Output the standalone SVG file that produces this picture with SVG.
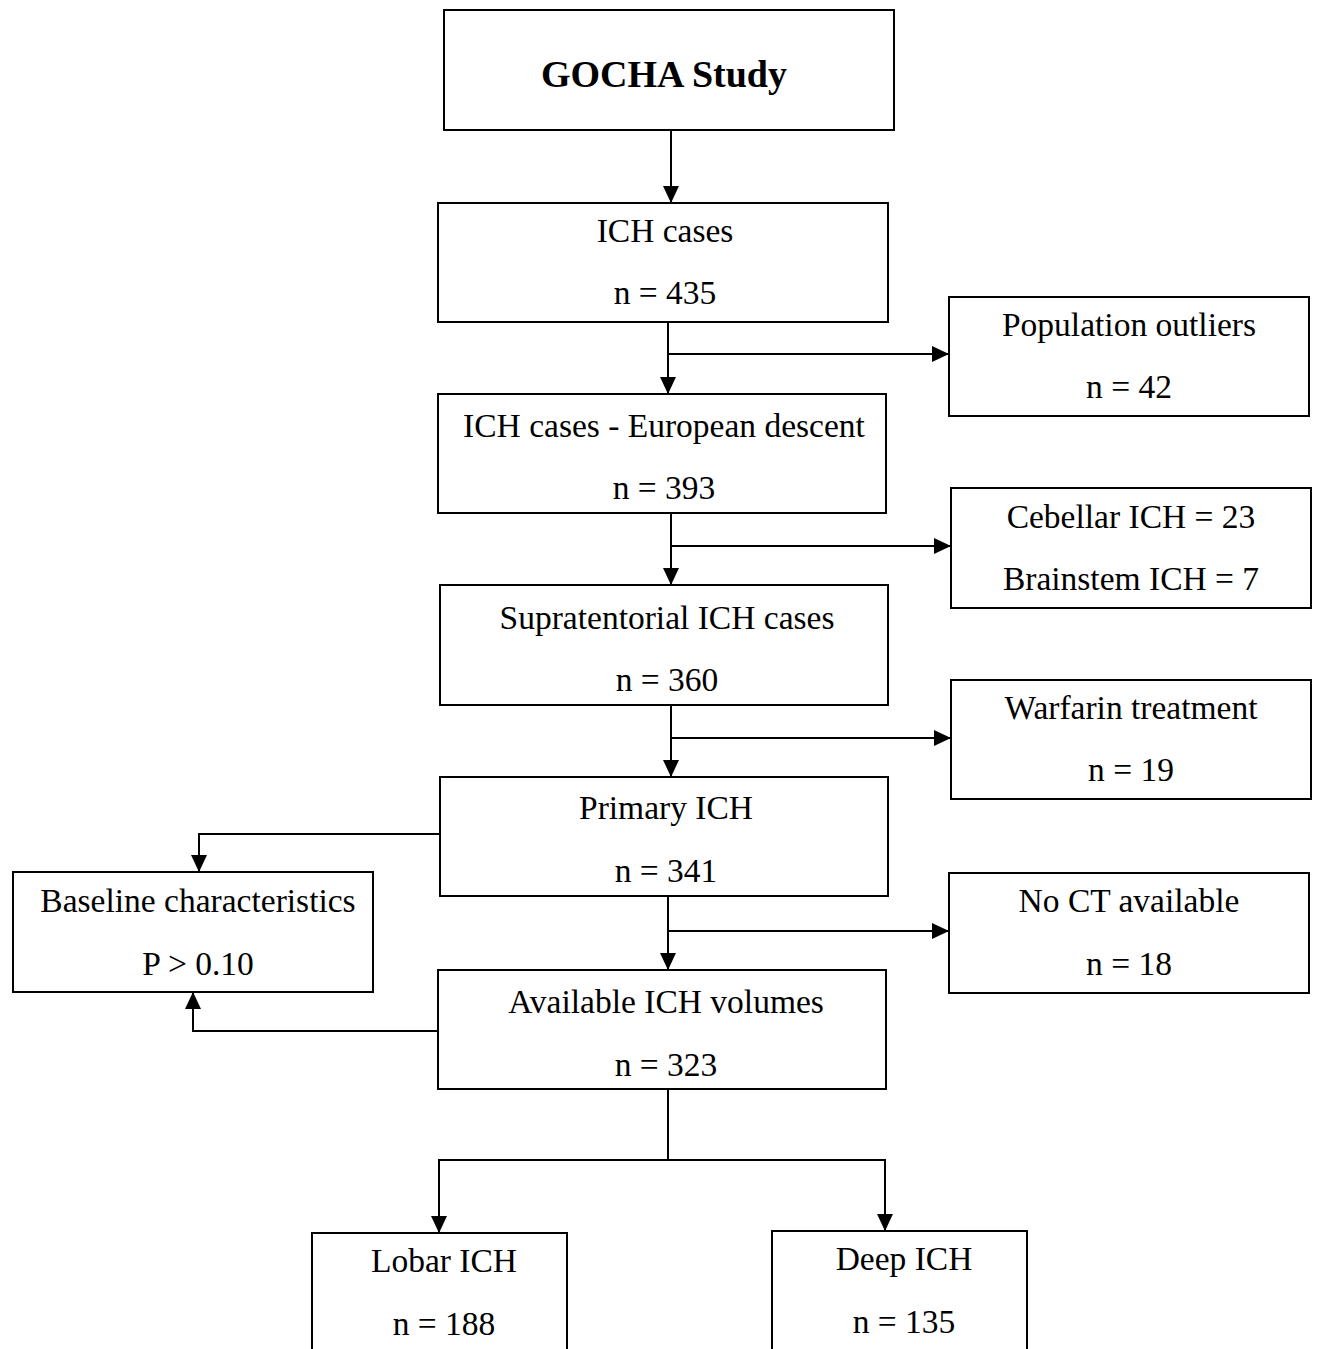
<svg xmlns="http://www.w3.org/2000/svg" width="1318" height="1349" viewBox="0 0 1318 1349">
<style>
.box{fill:#fff;stroke:#000;stroke-width:2}
.t{font-family:"Liberation Serif","Times New Roman",serif;font-size:33.5px;fill:#000;text-anchor:middle}
.b{font-weight:bold;font-size:38px}
.c{fill:none;stroke:#000;stroke-width:2}
</style>
<defs>
<marker id="ah" viewBox="0 0 17 16" refX="17" refY="8" markerWidth="17" markerHeight="16" markerUnits="userSpaceOnUse" orient="auto">
<path d="M0,0 L17,8 L0,16 Z" fill="#000"/>
</marker>
</defs>
<rect width="1318" height="1349" fill="#fff"/>
<g id="connectors">
<path class="c" d="M671,130 V203" marker-end="url(#ah)"/>
<path class="c" d="M668,322 V394" marker-end="url(#ah)"/>
<path class="c" d="M668,354 H949" marker-end="url(#ah)"/>
<path class="c" d="M671,513 V585" marker-end="url(#ah)"/>
<path class="c" d="M671,546 H951" marker-end="url(#ah)"/>
<path class="c" d="M671,705 V777" marker-end="url(#ah)"/>
<path class="c" d="M671,738 H951" marker-end="url(#ah)"/>
<path class="c" d="M668,896 V970" marker-end="url(#ah)"/>
<path class="c" d="M668,931 H949" marker-end="url(#ah)"/>
<path class="c" d="M440,834 H199 V872" marker-end="url(#ah)"/>
<path class="c" d="M438,1031 H193 V992" marker-end="url(#ah)"/>
<path class="c" d="M668,1089 V1160"/>
<path class="c" d="M668,1160 H439 V1233" marker-end="url(#ah)"/>
<path class="c" d="M668,1160 H885 V1231" marker-end="url(#ah)"/>
</g>
<g id="gocha"><rect class="box" x="444" y="10" width="450" height="120"/><text class="t b" x="664" y="87">GOCHA Study</text></g>
<g id="ich"><rect class="box" x="438" y="203" width="450" height="119"/><text class="t" x="665" y="242">ICH cases</text><text class="t" x="665" y="304">n = 435</text></g>
<g id="outliers"><rect class="box" x="949" y="297" width="360" height="119"/><text class="t" x="1129" y="336">Population outliers</text><text class="t" x="1129" y="398">n = 42</text></g>
<g id="european"><rect class="box" x="438" y="394" width="448" height="119"/><text class="t" x="664" y="437">ICH cases - European descent</text><text class="t" x="664" y="499">n = 393</text></g>
<g id="cebellar"><rect class="box" x="951" y="488" width="360" height="120"/><text class="t" x="1131" y="528">Cebellar ICH = 23</text><text class="t" x="1131" y="590">Brainstem ICH = 7</text></g>
<g id="supra"><rect class="box" x="440" y="585" width="448" height="120"/><text class="t" x="667" y="629">Supratentorial ICH cases</text><text class="t" x="667" y="691">n = 360</text></g>
<g id="warfarin"><rect class="box" x="951" y="680" width="360" height="119"/><text class="t" x="1131" y="719">Warfarin treatment</text><text class="t" x="1131" y="781">n = 19</text></g>
<g id="primary"><rect class="box" x="440" y="777" width="448" height="119"/><text class="t" x="666" y="819">Primary ICH</text><text class="t" x="666" y="882">n = 341</text></g>
<g id="baseline"><rect class="box" x="13" y="872" width="360" height="120"/><text class="t" x="198" y="912">Baseline characteristics</text><text class="t" x="198" y="975">P &gt; 0.10</text></g>
<g id="noct"><rect class="box" x="949" y="873" width="360" height="120"/><text class="t" x="1129" y="912">No CT available</text><text class="t" x="1129" y="975">n = 18</text></g>
<g id="available"><rect class="box" x="438" y="970" width="448" height="119"/><text class="t" x="666" y="1013">Available ICH volumes</text><text class="t" x="666" y="1076">n = 323</text></g>
<g id="lobar"><rect class="box" x="312" y="1233" width="255" height="130"/><text class="t" x="444" y="1272">Lobar ICH</text><text class="t" x="444" y="1335">n = 188</text></g>
<g id="deep"><rect class="box" x="772" y="1231" width="255" height="130"/><text class="t" x="904" y="1270">Deep ICH</text><text class="t" x="904" y="1333">n = 135</text></g>
</svg>
